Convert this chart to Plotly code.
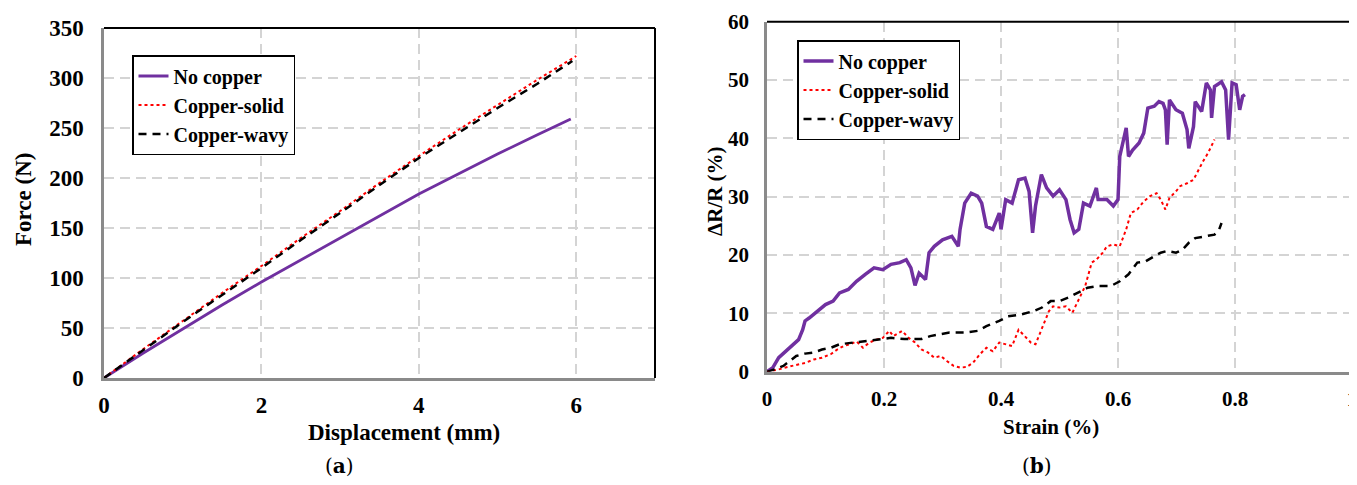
import plotly.graph_objects as go

# ---------------- Data: panel (a) Force vs displacement ----------------
a_no_x = [0, 0.5, 1, 1.5, 2, 2.5, 3, 3.5, 4, 4.5, 5, 5.5, 5.93]
a_no_y = [0, 25, 49, 73, 96, 118, 140, 162, 184, 204, 224, 243, 259]
a_solid_x = [0, 0.5, 1, 1.5, 2, 2.5, 3, 3.5, 4, 4.5, 5, 5.5, 6.0]
a_solid_y = [0, 29, 57, 85, 112, 140, 167, 195, 222, 248, 273, 298, 322]
a_wavy_x = [0, 0.5, 1, 1.5, 2, 2.5, 3, 3.5, 4, 4.5, 5, 5.5, 5.95]
a_wavy_y = [0, 28, 56, 83, 110, 138, 165, 193, 220, 245, 270, 294, 317]

# ---------------- Data: panel (b) dR/R vs strain ----------------
b_no_x = [0, 0.01, 0.02, 0.032, 0.043, 0.054, 0.061, 0.065, 0.072, 0.087, 0.10, 0.113,
          0.124, 0.139, 0.153, 0.168, 0.183, 0.198, 0.212, 0.227, 0.238, 0.246, 0.253,
          0.26, 0.268, 0.271, 0.277, 0.286, 0.30, 0.316, 0.327, 0.33, 0.338, 0.349,
          0.36, 0.367, 0.375, 0.386, 0.397, 0.40, 0.408, 0.419, 0.43, 0.441, 0.448,
          0.454, 0.459, 0.469, 0.478, 0.489, 0.50, 0.511, 0.518, 0.525, 0.533, 0.541,
          0.552, 0.563, 0.566, 0.581, 0.592, 0.60, 0.603, 0.611, 0.614, 0.618, 0.625,
          0.636, 0.644, 0.651, 0.662, 0.67, 0.677, 0.681, 0.684, 0.688, 0.699, 0.71,
          0.718, 0.721, 0.729, 0.732, 0.743, 0.751, 0.758, 0.76, 0.765, 0.777, 0.784,
          0.789, 0.795, 0.802, 0.808, 0.813, 0.817]
b_no_y = [0, 0.7, 2.4, 3.5, 4.4, 5.5, 7.2, 8.7, 9.2, 10.4, 11.5, 12.1,
          13.5, 14.1, 15.5, 16.7, 17.8, 17.5, 18.4, 18.7, 19.2, 17.8, 14.8,
          16.9, 16.1, 15.8, 20.4, 21.5, 22.6, 23.2, 21.5, 24.4, 28.9, 30.6,
          30.1, 28.9, 24.9, 24.4, 27.2, 24.4, 29.5, 28.9, 32.9, 33.2, 30.9,
          23.8, 28.4, 33.8, 31.5, 30.1, 31.2, 29.5, 26.1, 23.8, 24.4, 28.9,
          28.4, 31.5, 29.5, 29.5, 28.4, 29.5, 36.9, 40.3, 41.8, 36.9, 38.0,
          39.2, 40.9, 45.2, 45.5, 46.3, 46.0, 44.9, 38.9, 46.6, 44.9, 44.3,
          41.5, 38.3, 42.0, 46.3, 44.6, 49.5, 48.3, 43.5, 48.9, 49.7, 48.3,
          39.8, 49.5, 49.2, 44.9, 47.2, 47.5]

b_solid_x = [0, 0.02, 0.043, 0.065, 0.08, 0.094, 0.109, 0.12, 0.131, 0.142, 0.153, 0.164,
             0.175, 0.187, 0.198, 0.209, 0.216, 0.231, 0.242, 0.253, 0.264, 0.275, 0.286,
             0.297, 0.308, 0.319, 0.33, 0.341, 0.352, 0.364, 0.375, 0.386, 0.397, 0.408,
             0.419, 0.43, 0.441, 0.451, 0.459, 0.47, 0.482, 0.489, 0.50, 0.511, 0.522,
             0.533, 0.544, 0.555, 0.563, 0.574, 0.581, 0.592, 0.603, 0.614, 0.622, 0.633,
             0.644, 0.655, 0.666, 0.673, 0.681, 0.688, 0.699, 0.706, 0.718, 0.729, 0.736,
             0.745, 0.754, 0.765]
b_solid_y = [0, 0.4, 1.0, 1.5, 2.1, 2.4, 3.0, 3.8, 4.4, 4.7, 5.2, 4.1,
             5.0, 5.5, 5.8, 7.0, 6.1, 7.0, 5.8, 5.0, 3.8, 3.3, 2.4,
             2.7, 1.8, 1.0, 0.7, 0.8, 1.5, 3.0, 4.1, 3.5, 5.0, 4.7,
             4.4, 7.2, 6.1, 5.0, 4.7, 7.5, 10.4, 11.2, 11.0, 11.2, 10.1,
             12.4, 14.7, 18.7, 19.2, 20.4, 21.5, 21.8, 21.5, 24.4, 27.2, 27.8,
             29.2, 30.1, 30.6, 29.5, 27.8, 29.8, 30.9, 31.8, 32.3, 32.9, 34.3,
             36.0, 37.5, 39.8]

b_wavy_x = [0, 0.013, 0.028, 0.039, 0.05, 0.065, 0.08, 0.094, 0.109, 0.124, 0.146, 0.168,
            0.19, 0.212, 0.235, 0.264, 0.279, 0.294, 0.312, 0.338, 0.36, 0.375, 0.397,
            0.412, 0.434, 0.456, 0.47, 0.485, 0.50, 0.515, 0.53, 0.548, 0.566, 0.588,
            0.603, 0.618, 0.633, 0.647, 0.662, 0.673, 0.684, 0.699, 0.71, 0.721, 0.732,
            0.747, 0.765, 0.773, 0.777]
b_wavy_y = [0, 0.4, 1.0, 1.8, 2.7, 3.1, 3.3, 3.8, 4.1, 4.7, 5.0, 5.2,
            5.5, 5.8, 5.6, 5.6, 6.1, 6.4, 6.7, 6.7, 7.0, 7.8, 8.7,
            9.5, 9.8, 10.4, 11.0, 12.1, 12.1, 12.7, 13.5, 14.4, 14.7, 14.7,
            15.5, 16.7, 18.7, 18.9, 19.8, 20.4, 20.7, 20.4, 20.9, 22.1, 22.9,
            23.2, 23.5, 24.4, 25.5]

series_names = ["No copper", "Copper-solid", "Copper-wavy"]

PURPLE = "#7030A0"
RED = "#FF0000"
BLACK = "#000000"
FONT = "Times New Roman, Liberation Serif, serif"

fig = go.Figure()

styles_a = [
    dict(color=PURPLE, width=2.8, dash="solid"),
    dict(color=RED, width=2, dash="dot"),
    dict(color=BLACK, width=2.5, dash="8px,6px"),
]
styles_b = [
    dict(color=PURPLE, width=3.5, dash="solid"),
    dict(color=RED, width=2, dash="dot"),
    dict(color=BLACK, width=2.5, dash="8px,6px"),
]

for name, xs, ys, st in zip(series_names, [a_no_x, a_solid_x, a_wavy_x],
                            [a_no_y, a_solid_y, a_wavy_y], styles_a):
    fig.add_trace(go.Scatter(x=xs, y=ys, mode="lines", name=name, line=st,
                             xaxis="x", yaxis="y", legend="legend"))

for name, xs, ys, st in zip(series_names, [b_no_x, b_solid_x, b_wavy_x],
                            [b_no_y, b_solid_y, b_wavy_y], styles_b):
    fig.add_trace(go.Scatter(x=xs, y=ys, mode="lines", name=name, line=st,
                             xaxis="x2", yaxis="y2", legend="legend2"))

# page body has an 8px margin: work in reference-pixel coordinates and shift
OFF = 8
W, H = 1357 - OFF, 485 - OFF


def px(x):
    return (x - OFF) / W


def py(y):
    return 1 - (y - OFF) / H


# pixel boxes of plot areas (reference coordinates)
L1, R1, T1, B1 = 104, 655, 28, 378
L2, R2, T2, B2 = 767, 1352, 21.7, 371.7

tickfont_a = dict(family=FONT, size=23, color="black", weight="bold")
tickfont_b = dict(family=FONT, size=21, color="black", weight="bold")
grid = dict(showgrid=True, gridcolor="#d4d4d4", gridwidth=2, griddash="10px,6px",
            zeroline=False, showline=True, linecolor="#8a8a8a", linewidth=2.5,
            ticks="", automargin=False, ticklabeloverflow="allow")

legend_font = dict(family=FONT, size=20, color="black", weight="bold")

fig.update_layout(
    width=W, height=H,
    margin=dict(l=0, r=0, t=0, b=0, autoexpand=False),
    paper_bgcolor="white", plot_bgcolor="white",
    xaxis=dict(domain=[px(L1), px(R1)], range=[0, 7], tickvals=[0, 2, 4, 6],
               anchor="y", ticklabelstandoff=5, tickfont=tickfont_a, **grid),
    yaxis=dict(domain=[py(B1), py(T1)], range=[0, 350],
               tickvals=[0, 50, 100, 150, 200, 250, 300, 350],
               anchor="x", ticklabelstandoff=13, tickfont=tickfont_a, **grid),
    xaxis2=dict(domain=[px(L2), px(R2)], range=[0, 1],
                tickvals=[0, 0.2, 0.4, 0.6, 0.8, 1], ticktext=["0", "0.2", "0.4", "0.6", "0.8", "1"],
                anchor="y2", ticklabelstandoff=6, tickfont=tickfont_b, **grid),
    yaxis2=dict(domain=[py(B2), py(T2)], range=[0, 60],
                tickvals=[0, 10, 20, 30, 40, 50, 60],
                anchor="x2", ticklabelstandoff=11, tickfont=tickfont_b, **grid),
    legend=dict(x=px(132), y=py(55), xanchor="left", yanchor="top",
                bgcolor="white", bordercolor="black", borderwidth=1.5,
                font=legend_font, itemwidth=30),
    legend2=dict(x=px(797), y=py(40), xanchor="left", yanchor="top",
                 bgcolor="white", bordercolor="black", borderwidth=1.5,
                 font=legend_font, itemwidth=30),
    showlegend=True,
)

# black top and right borders
for xd, yd in [("x domain", "y domain"), ("x2 domain", "y2 domain")]:
    fig.add_shape(type="line", xref=xd, yref=yd, x0=0, x1=1, y0=1, y1=1,
                  line=dict(color="black", width=2))
    fig.add_shape(type="line", xref=xd, yref=yd, x0=1, x1=1, y0=0, y1=1,
                  line=dict(color="black", width=2))

ann = [
    dict(text="Force (N)", x=23, y=200, textangle=-90, size=23),
    dict(text="Displacement (mm)", x=404, y=432, textangle=0, size=23),
    dict(text="ΔR/R (%)", x=715, y=191, textangle=-90, size=21),
    dict(text="Strain (%)", x=1051, y=427, textangle=0, size=21),
]
for a in ann:
    fig.add_annotation(text=a["text"], x=px(a["x"]), y=py(a["y"]), xref="paper", yref="paper",
                       showarrow=False, textangle=a["textangle"],
                       font=dict(family=FONT, size=a["size"], color="black", weight="bold"),
                       xanchor="center", yanchor="middle")

for txt, x in [("(<b>a</b>)", 339), ("(<b>b</b>)", 1037)]:
    fig.add_annotation(text=txt, x=px(x), y=py(466), xref="paper", yref="paper",
                       showarrow=False, font=dict(family="DejaVu Serif", size=20, color="black"),
                       xanchor="center", yanchor="middle")

fig.write_html("out.html")
